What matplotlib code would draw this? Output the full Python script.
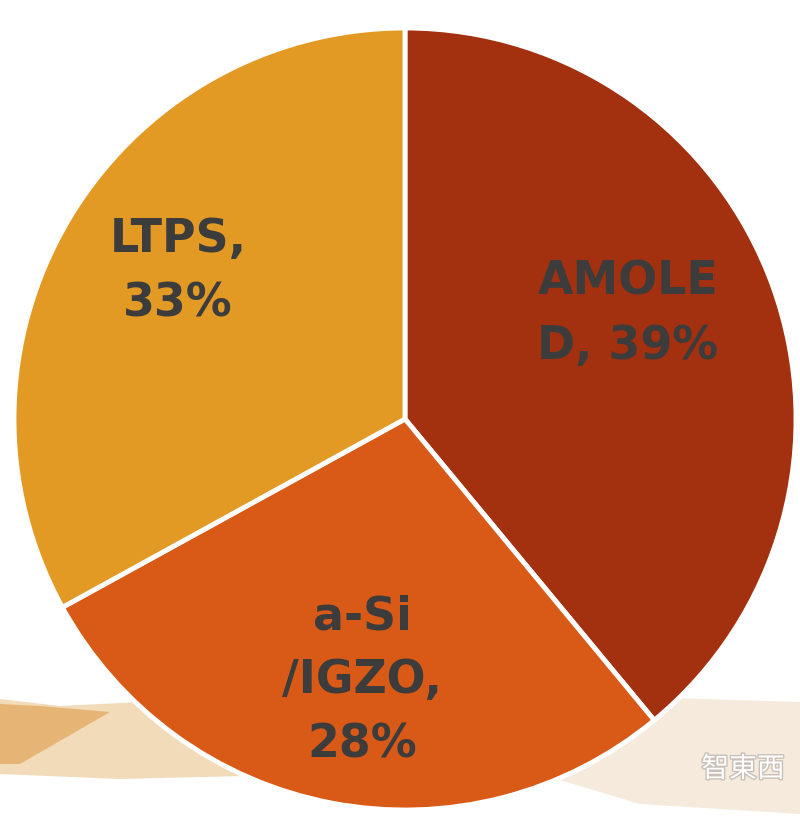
import matplotlib
matplotlib.use("Agg")
import matplotlib.pyplot as plt
from matplotlib.patches import Polygon
import matplotlib.patheffects as pe

categories = ["AMOLE\nD, 39%", "a-Si\n/IGZO,\n28%", "LTPS,\n33%"]
values = [39, 28, 33]
colors = ["#A3300E", "#D95A17", "#E39A25"]

W, H = 800, 834
fig = plt.figure(figsize=(W / 100, H / 100), dpi=100)
ax = fig.add_axes([0, 0, 1, 1])
ax.set_xlim(0, W)
ax.set_ylim(0, H)
ax.set_aspect("equal")
ax.axis("off")

# decorative background bands at bottom
ax.add_patch(Polygon([[0, 135], [60, 128], [200, 135], [330, 150], [330, 60], [120, 55], [0, 60]],
                     closed=True, facecolor="#EFD2A8", edgecolor="none", alpha=0.8, zorder=0))
ax.add_patch(Polygon([[0, 130], [40, 128], [110, 122], [20, 70], [0, 70]],
                     closed=True, facecolor="#E2A55A", edgecolor="none", alpha=0.7, zorder=0))
ax.add_patch(Polygon([[560, 140], [700, 135], [800, 132], [800, 20], [640, 30], [540, 60]],
                     closed=True, facecolor="#F4E8D8", edgecolor="none", alpha=0.9, zorder=0))

cx, cy, r = 405, 415, 391
wedges, _ = ax.pie(values, colors=colors, startangle=90, counterclock=False,
                   center=(cx, cy), radius=r, frame=True,
                   wedgeprops=dict(edgecolor="white", linewidth=3.5))
ax.set_xlim(0, W)
ax.set_ylim(0, H)
ax.axis("off")

label_pos = [(cx + 223, cy + 105), (cx - 43, cy - 262), (cx - 227, cy + 147)]
for txt, (x, y) in zip(categories, label_pos):
    ax.text(x, y, txt, ha="center", va="center", fontsize=33, fontweight="bold",
            color="#3C3C3C", linespacing=1.55, family="DejaVu Sans")

ax.text(743, 65, "智東西", ha="center", va="center", fontsize=20, color="white",
        family=["Noto Sans CJK TC", "DejaVu Sans"], zorder=5,
        path_effects=[pe.withStroke(linewidth=2, foreground="#C8C0B8")])

fig.savefig("out.png", dpi=100)
